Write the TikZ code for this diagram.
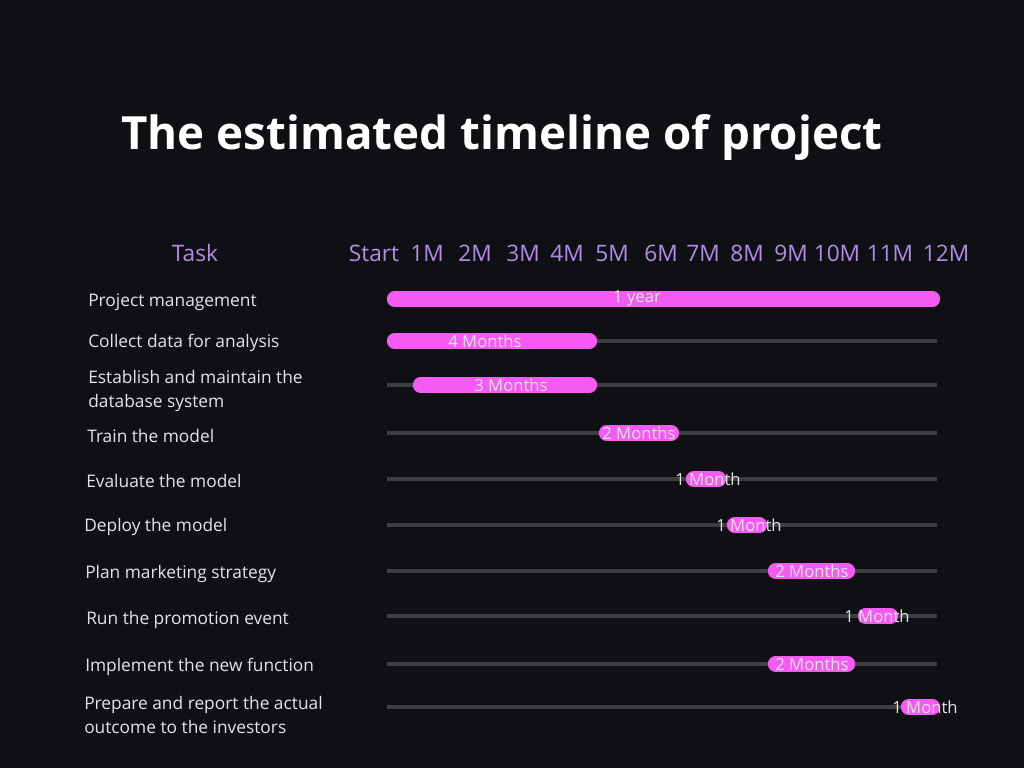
\documentclass[tikz,border=0pt]{standalone}
\usepackage{fontspec}
\setmainfont{Open Sans}
\definecolor{bg}{HTML}{0F1013}
\definecolor{trk}{HTML}{3E3E40}
\definecolor{pnk}{HTML}{F55AF2}
\definecolor{lilac}{HTML}{B08DE8}
\definecolor{txt}{HTML}{E4E4E4}
\tikzset{
  ttl/.style={font=\fontsize{34.3}{40}\selectfont\bfseries,text=white,inner sep=0pt},
  head/.style={font=\fontsize{17}{20}\selectfont,text=lilac,inner sep=0pt,anchor=base},
  task/.style={font=\fontsize{13}{17.3}\selectfont,text=txt,anchor=west,align=left,inner sep=0pt},
  trkline/.style={draw=trk,line width=3pt},
  bar/.style={draw=pnk,line width=11.5pt,line cap=round},
  barlab/.style={font=\fontsize{12.5}{15}\selectfont,text=txt,inner sep=0pt},
}
\begin{document}
\begin{tikzpicture}[x=0.75pt,y=-0.75pt]
\fill[bg] (0,0) rectangle (1024,768);
\node[ttl] (title) at (502,137) {The estimated timeline of project};
% header row
\node[head] (htask) at (195,261) {Task};
\foreach \lab/\x [count=\i] in {Start/374,1M/427,2M/475,3M/523,4M/567,5M/612,6M/661,7M/703,8M/747,9M/791,10M/837,11M/890,12M/946}
  \node[head] (m\i) at (\x,261) {\lab};
% task names
\node[task] (t1) at (88,302) {Project management};
\node[task] (t2) at (88,343) {Collect data for analysis};
\node[task] (t3) at (88,391) {Establish and maintain the\\database system};
\node[task] (t4) at (87,436) {Train the model};
\node[task] (t5) at (86,481) {Evaluate the model};
\node[task] (t6) at (84,527) {Deploy the model};
\node[task] (t7) at (85,574) {Plan marketing strategy};
\node[task] (t8) at (86,620) {Run the promotion event};
\node[task] (t9) at (85,667) {Implement the new function};
\node[task] (t10) at (84,715) {Prepare and report the actual\\outcome to the investors};
% tracks, bars and durations
\foreach \y/\a/\b/\lx/\dur [count=\i] in {
  299/387/940/637/1 year,
  341/387/597/485/4 Months,
  385/413/597/511/3 Months,
  433/599/679/639/2 Months,
  479/686/726/708/1 Month,
  525/727/767/749/1 Month,
  571/768/855/812/2 Months,
  616/858/898/877/1 Month,
  664/768/855/812/2 Months,
  707/901/940/925/1 Month}{
  \draw[trkline] (387,\y) -- (937,\y);
  \draw[bar] (\a+7.5,\y) -- (\b-7.5,\y);
  \node[barlab] (d\i) at (\lx,\y) {\dur};
}
\end{tikzpicture}
\end{document}
